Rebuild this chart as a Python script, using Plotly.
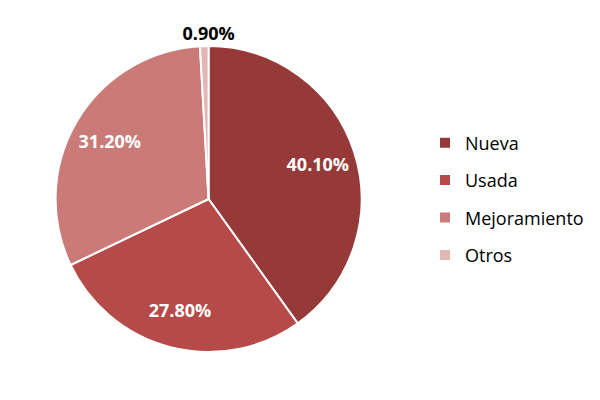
import plotly.graph_objects as go

labels = ["Nueva", "Usada", "Mejoramiento", "Otros"]
values = [40.1, 27.8, 31.2, 0.9]
colors = ["#953A38", "#B54A48", "#CA7B78", "#E2B6B5"]

dom = dict(x=[0.0793, 0.5893], y=[0.14, 0.965])
font_fam = "Open Sans"
small_label = f"<b>{values[3]:.2f}%</b>"

fig = go.Figure()
# colored pie (no text); transparent copy of title keeps geometry identical
fig.add_trace(go.Pie(
    labels=labels, values=values, sort=False, direction="clockwise", rotation=0,
    marker=dict(colors=colors, line=dict(color="white", width=2)),
    textinfo="none", showlegend=False, hoverinfo="label+percent",
    domain=dom,
    title=dict(text=small_label, position="top center",
               font=dict(family=font_fam, size=18, color="rgba(0,0,0,0)")),
))
# transparent ring carrying the inside labels further out
fig.add_trace(go.Pie(
    labels=labels, values=values, sort=False, direction="clockwise", rotation=0,
    hole=0.5,
    marker=dict(colors=["rgba(0,0,0,0)"] * 4, line=dict(width=0)),
    texttemplate=["%{value:.2f}%", "%{value:.2f}%", "%{value:.2f}%", ""],
    textposition="inside", insidetextorientation="horizontal",
    textfont=dict(family=font_fam, size=18, color="white", weight="bold"),
    showlegend=False, hoverinfo="skip",
    domain=dom,
    title=dict(text=small_label, position="top center",
               font=dict(family=font_fam, size=18, color="black")),
))
for lab, col in zip(labels, colors):
    fig.add_trace(go.Scatter(
        x=[None], y=[None], mode="markers", name=lab, legendgroup=lab,
        marker=dict(symbol="square", size=10, color=col),
    ))

fig.update_layout(
    width=600, height=400, margin=dict(l=0, r=0, t=0, b=0),
    paper_bgcolor="white", plot_bgcolor="white",
    xaxis=dict(visible=False), yaxis=dict(visible=False),
    legend=dict(x=0.695, y=0.5225, xanchor="left", yanchor="middle",
                font=dict(family=font_fam, size=18, color="black"),
                tracegroupgap=11, itemwidth=30),
)
fig.write_html("out.html")
